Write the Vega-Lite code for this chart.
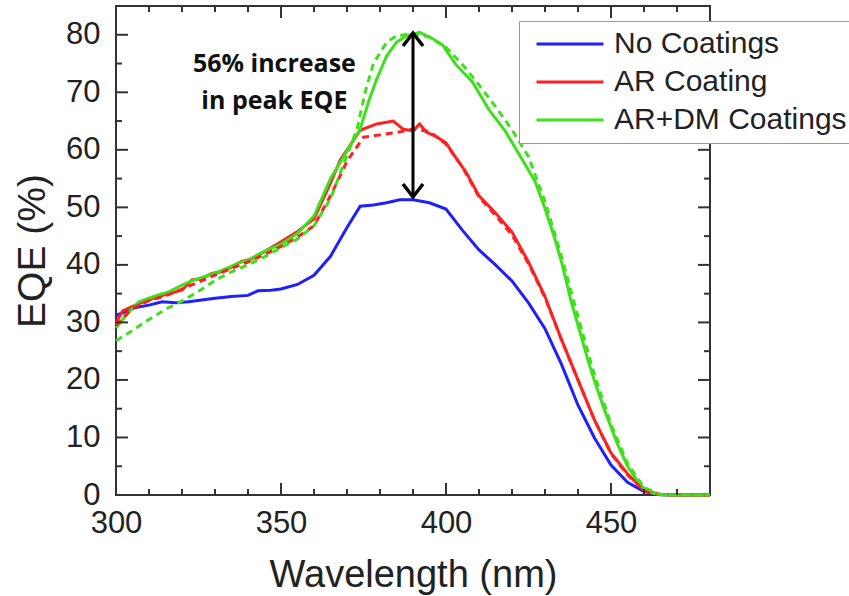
{
  "$schema": "https://vega.github.io/schema/vega-lite/v6.json",
  "width": 594,
  "height": 489,
  "autosize": {"type": "none"},
  "padding": {"left": 116, "top": 6, "right": 139, "bottom": 101},
  "background": "white",
  "config": {
    "view": {"stroke": "#333333", "strokeWidth": 2},
    "font": "Liberation Sans"
  },
  "datasets": {
    "curves": [
      {"wl":300,"eqe":31.2,"series":"No Coatings","kind":"Measured"},{"wl":303,"eqe":31.9,"series":"No Coatings","kind":"Measured"},{"wl":306,"eqe":32.6,"series":"No Coatings","kind":"Measured"},{"wl":310,"eqe":33.0,"series":"No Coatings","kind":"Measured"},{"wl":314,"eqe":33.6,"series":"No Coatings","kind":"Measured"},{"wl":318,"eqe":33.4,"series":"No Coatings","kind":"Measured"},{"wl":322,"eqe":33.6,"series":"No Coatings","kind":"Measured"},{"wl":326,"eqe":33.9,"series":"No Coatings","kind":"Measured"},{"wl":330,"eqe":34.2,"series":"No Coatings","kind":"Measured"},{"wl":335,"eqe":34.5,"series":"No Coatings","kind":"Measured"},{"wl":340,"eqe":34.7,"series":"No Coatings","kind":"Measured"},{"wl":343,"eqe":35.5,"series":"No Coatings","kind":"Measured"},{"wl":347,"eqe":35.6,"series":"No Coatings","kind":"Measured"},{"wl":350,"eqe":35.8,"series":"No Coatings","kind":"Measured"},{"wl":355,"eqe":36.6,"series":"No Coatings","kind":"Measured"},{"wl":360,"eqe":38.2,"series":"No Coatings","kind":"Measured"},{"wl":365,"eqe":41.5,"series":"No Coatings","kind":"Measured"},{"wl":370,"eqe":46.5,"series":"No Coatings","kind":"Measured"},{"wl":374,"eqe":50.2,"series":"No Coatings","kind":"Measured"},{"wl":378,"eqe":50.4,"series":"No Coatings","kind":"Measured"},{"wl":382,"eqe":50.8,"series":"No Coatings","kind":"Measured"},{"wl":386,"eqe":51.3,"series":"No Coatings","kind":"Measured"},{"wl":390,"eqe":51.3,"series":"No Coatings","kind":"Measured"},{"wl":395,"eqe":50.8,"series":"No Coatings","kind":"Measured"},{"wl":400,"eqe":49.7,"series":"No Coatings","kind":"Measured"},{"wl":405,"eqe":46.0,"series":"No Coatings","kind":"Measured"},{"wl":410,"eqe":42.6,"series":"No Coatings","kind":"Measured"},{"wl":415,"eqe":40.0,"series":"No Coatings","kind":"Measured"},{"wl":420,"eqe":37.2,"series":"No Coatings","kind":"Measured"},{"wl":425,"eqe":33.4,"series":"No Coatings","kind":"Measured"},{"wl":430,"eqe":28.9,"series":"No Coatings","kind":"Measured"},{"wl":435,"eqe":22.7,"series":"No Coatings","kind":"Measured"},{"wl":440,"eqe":15.6,"series":"No Coatings","kind":"Measured"},{"wl":445,"eqe":9.9,"series":"No Coatings","kind":"Measured"},{"wl":450,"eqe":5.2,"series":"No Coatings","kind":"Measured"},{"wl":455,"eqe":2.2,"series":"No Coatings","kind":"Measured"},{"wl":460,"eqe":0.6,"series":"No Coatings","kind":"Measured"},{"wl":465,"eqe":0.05,"series":"No Coatings","kind":"Measured"},{"wl":470,"eqe":0,"series":"No Coatings","kind":"Measured"},{"wl":480,"eqe":0,"series":"No Coatings","kind":"Measured"},

      {"wl":300,"eqe":30.0,"series":"AR Coating","kind":"Measured"},{"wl":302,"eqe":32.0,"series":"AR Coating","kind":"Measured"},{"wl":305,"eqe":32.8,"series":"AR Coating","kind":"Measured"},{"wl":308,"eqe":33.5,"series":"AR Coating","kind":"Measured"},{"wl":312,"eqe":34.3,"series":"AR Coating","kind":"Measured"},{"wl":316,"eqe":35.0,"series":"AR Coating","kind":"Measured"},{"wl":320,"eqe":35.6,"series":"AR Coating","kind":"Measured"},{"wl":323,"eqe":37.4,"series":"AR Coating","kind":"Measured"},{"wl":326,"eqe":37.6,"series":"AR Coating","kind":"Measured"},{"wl":329,"eqe":38.5,"series":"AR Coating","kind":"Measured"},{"wl":332,"eqe":38.8,"series":"AR Coating","kind":"Measured"},{"wl":335,"eqe":39.6,"series":"AR Coating","kind":"Measured"},{"wl":338,"eqe":40.6,"series":"AR Coating","kind":"Measured"},{"wl":341,"eqe":41.0,"series":"AR Coating","kind":"Measured"},{"wl":345,"eqe":42.3,"series":"AR Coating","kind":"Measured"},{"wl":350,"eqe":44.0,"series":"AR Coating","kind":"Measured"},{"wl":355,"eqe":45.8,"series":"AR Coating","kind":"Measured"},{"wl":360,"eqe":48.0,"series":"AR Coating","kind":"Measured"},{"wl":365,"eqe":54.2,"series":"AR Coating","kind":"Measured"},{"wl":368,"eqe":58.3,"series":"AR Coating","kind":"Measured"},{"wl":371,"eqe":60.8,"series":"AR Coating","kind":"Measured"},{"wl":374,"eqe":63.4,"series":"AR Coating","kind":"Measured"},{"wl":379,"eqe":64.5,"series":"AR Coating","kind":"Measured"},{"wl":384,"eqe":65.0,"series":"AR Coating","kind":"Measured"},{"wl":387,"eqe":63.6,"series":"AR Coating","kind":"Measured"},{"wl":390,"eqe":63.3,"series":"AR Coating","kind":"Measured"},{"wl":392,"eqe":64.5,"series":"AR Coating","kind":"Measured"},{"wl":394,"eqe":63.1,"series":"AR Coating","kind":"Measured"},{"wl":397,"eqe":62.3,"series":"AR Coating","kind":"Measured"},{"wl":400,"eqe":61.2,"series":"AR Coating","kind":"Measured"},{"wl":403,"eqe":58.6,"series":"AR Coating","kind":"Measured"},{"wl":406,"eqe":56.2,"series":"AR Coating","kind":"Measured"},{"wl":410,"eqe":52.0,"series":"AR Coating","kind":"Measured"},{"wl":415,"eqe":49.0,"series":"AR Coating","kind":"Measured"},{"wl":420,"eqe":45.7,"series":"AR Coating","kind":"Measured"},{"wl":425,"eqe":40.5,"series":"AR Coating","kind":"Measured"},{"wl":430,"eqe":34.5,"series":"AR Coating","kind":"Measured"},{"wl":435,"eqe":27.0,"series":"AR Coating","kind":"Measured"},{"wl":440,"eqe":20.0,"series":"AR Coating","kind":"Measured"},{"wl":445,"eqe":13.0,"series":"AR Coating","kind":"Measured"},{"wl":450,"eqe":7.3,"series":"AR Coating","kind":"Measured"},{"wl":455,"eqe":3.7,"series":"AR Coating","kind":"Measured"},{"wl":460,"eqe":0.8,"series":"AR Coating","kind":"Measured"},{"wl":465,"eqe":0.1,"series":"AR Coating","kind":"Measured"},{"wl":470,"eqe":0,"series":"AR Coating","kind":"Measured"},{"wl":480,"eqe":0,"series":"AR Coating","kind":"Measured"},

      {"wl":300,"eqe":29.5,"series":"AR Coating","kind":"Simulated"},{"wl":305,"eqe":32.5,"series":"AR Coating","kind":"Simulated"},{"wl":310,"eqe":33.8,"series":"AR Coating","kind":"Simulated"},{"wl":315,"eqe":34.6,"series":"AR Coating","kind":"Simulated"},{"wl":320,"eqe":35.8,"series":"AR Coating","kind":"Simulated"},{"wl":325,"eqe":37.0,"series":"AR Coating","kind":"Simulated"},{"wl":330,"eqe":38.2,"series":"AR Coating","kind":"Simulated"},{"wl":335,"eqe":39.4,"series":"AR Coating","kind":"Simulated"},{"wl":340,"eqe":40.5,"series":"AR Coating","kind":"Simulated"},{"wl":345,"eqe":41.8,"series":"AR Coating","kind":"Simulated"},{"wl":350,"eqe":43.2,"series":"AR Coating","kind":"Simulated"},{"wl":355,"eqe":44.8,"series":"AR Coating","kind":"Simulated"},{"wl":360,"eqe":46.8,"series":"AR Coating","kind":"Simulated"},{"wl":365,"eqe":52.0,"series":"AR Coating","kind":"Simulated"},{"wl":370,"eqe":58.0,"series":"AR Coating","kind":"Simulated"},{"wl":375,"eqe":62.2,"series":"AR Coating","kind":"Simulated"},{"wl":380,"eqe":62.6,"series":"AR Coating","kind":"Simulated"},{"wl":385,"eqe":63.0,"series":"AR Coating","kind":"Simulated"},{"wl":390,"eqe":63.6,"series":"AR Coating","kind":"Simulated"},{"wl":395,"eqe":63.2,"series":"AR Coating","kind":"Simulated"},{"wl":400,"eqe":61.0,"series":"AR Coating","kind":"Simulated"},{"wl":405,"eqe":57.0,"series":"AR Coating","kind":"Simulated"},{"wl":410,"eqe":51.8,"series":"AR Coating","kind":"Simulated"},{"wl":415,"eqe":48.6,"series":"AR Coating","kind":"Simulated"},{"wl":420,"eqe":45.2,"series":"AR Coating","kind":"Simulated"},{"wl":425,"eqe":40.2,"series":"AR Coating","kind":"Simulated"},{"wl":430,"eqe":34.3,"series":"AR Coating","kind":"Simulated"},{"wl":435,"eqe":27.0,"series":"AR Coating","kind":"Simulated"},{"wl":440,"eqe":20.0,"series":"AR Coating","kind":"Simulated"},{"wl":445,"eqe":13.0,"series":"AR Coating","kind":"Simulated"},{"wl":450,"eqe":7.2,"series":"AR Coating","kind":"Simulated"},{"wl":455,"eqe":3.5,"series":"AR Coating","kind":"Simulated"},{"wl":460,"eqe":0.8,"series":"AR Coating","kind":"Simulated"},{"wl":465,"eqe":0.1,"series":"AR Coating","kind":"Simulated"},{"wl":470,"eqe":0,"series":"AR Coating","kind":"Simulated"},{"wl":480,"eqe":0,"series":"AR Coating","kind":"Simulated"},

      {"wl":300,"eqe":29.0,"series":"AR+DM Coatings","kind":"Measured"},{"wl":302,"eqe":30.5,"series":"AR+DM Coatings","kind":"Measured"},{"wl":305,"eqe":32.5,"series":"AR+DM Coatings","kind":"Measured"},{"wl":307,"eqe":33.6,"series":"AR+DM Coatings","kind":"Measured"},{"wl":310,"eqe":34.2,"series":"AR+DM Coatings","kind":"Measured"},{"wl":313,"eqe":34.8,"series":"AR+DM Coatings","kind":"Measured"},{"wl":316,"eqe":35.3,"series":"AR+DM Coatings","kind":"Measured"},{"wl":319,"eqe":36.2,"series":"AR+DM Coatings","kind":"Measured"},{"wl":322,"eqe":37.0,"series":"AR+DM Coatings","kind":"Measured"},{"wl":325,"eqe":37.6,"series":"AR+DM Coatings","kind":"Measured"},{"wl":328,"eqe":38.2,"series":"AR+DM Coatings","kind":"Measured"},{"wl":331,"eqe":38.8,"series":"AR+DM Coatings","kind":"Measured"},{"wl":334,"eqe":39.5,"series":"AR+DM Coatings","kind":"Measured"},{"wl":337,"eqe":40.3,"series":"AR+DM Coatings","kind":"Measured"},{"wl":340,"eqe":40.8,"series":"AR+DM Coatings","kind":"Measured"},{"wl":343,"eqe":41.8,"series":"AR+DM Coatings","kind":"Measured"},{"wl":346,"eqe":42.6,"series":"AR+DM Coatings","kind":"Measured"},{"wl":350,"eqe":43.6,"series":"AR+DM Coatings","kind":"Measured"},{"wl":355,"eqe":45.5,"series":"AR+DM Coatings","kind":"Measured"},{"wl":360,"eqe":48.5,"series":"AR+DM Coatings","kind":"Measured"},{"wl":365,"eqe":55.0,"series":"AR+DM Coatings","kind":"Measured"},{"wl":370,"eqe":59.8,"series":"AR+DM Coatings","kind":"Measured"},{"wl":374,"eqe":63.6,"series":"AR+DM Coatings","kind":"Measured"},{"wl":376.5,"eqe":68.3,"series":"AR+DM Coatings","kind":"Measured"},{"wl":379,"eqe":72.3,"series":"AR+DM Coatings","kind":"Measured"},{"wl":382,"eqe":76.3,"series":"AR+DM Coatings","kind":"Measured"},{"wl":385,"eqe":78.7,"series":"AR+DM Coatings","kind":"Measured"},{"wl":388,"eqe":79.8,"series":"AR+DM Coatings","kind":"Measured"},{"wl":392,"eqe":80.4,"series":"AR+DM Coatings","kind":"Measured"},{"wl":396,"eqe":79.3,"series":"AR+DM Coatings","kind":"Measured"},{"wl":399,"eqe":78.2,"series":"AR+DM Coatings","kind":"Measured"},{"wl":403,"eqe":74.8,"series":"AR+DM Coatings","kind":"Measured"},{"wl":408,"eqe":71.8,"series":"AR+DM Coatings","kind":"Measured"},{"wl":413,"eqe":67.0,"series":"AR+DM Coatings","kind":"Measured"},{"wl":418,"eqe":63.2,"series":"AR+DM Coatings","kind":"Measured"},{"wl":423,"eqe":58.4,"series":"AR+DM Coatings","kind":"Measured"},{"wl":427,"eqe":54.5,"series":"AR+DM Coatings","kind":"Measured"},{"wl":430,"eqe":49.8,"series":"AR+DM Coatings","kind":"Measured"},{"wl":433,"eqe":44.5,"series":"AR+DM Coatings","kind":"Measured"},{"wl":435,"eqe":40.5,"series":"AR+DM Coatings","kind":"Measured"},{"wl":438,"eqe":33.5,"series":"AR+DM Coatings","kind":"Measured"},{"wl":440,"eqe":29.5,"series":"AR+DM Coatings","kind":"Measured"},{"wl":443,"eqe":23.5,"series":"AR+DM Coatings","kind":"Measured"},{"wl":445,"eqe":19.8,"series":"AR+DM Coatings","kind":"Measured"},{"wl":448,"eqe":14.8,"series":"AR+DM Coatings","kind":"Measured"},{"wl":450,"eqe":11.8,"series":"AR+DM Coatings","kind":"Measured"},{"wl":452,"eqe":8.8,"series":"AR+DM Coatings","kind":"Measured"},{"wl":455,"eqe":5.0,"series":"AR+DM Coatings","kind":"Measured"},{"wl":459,"eqe":1.6,"series":"AR+DM Coatings","kind":"Measured"},{"wl":462,"eqe":0.4,"series":"AR+DM Coatings","kind":"Measured"},{"wl":465,"eqe":0.05,"series":"AR+DM Coatings","kind":"Measured"},{"wl":470,"eqe":0,"series":"AR+DM Coatings","kind":"Measured"},{"wl":480,"eqe":0,"series":"AR+DM Coatings","kind":"Measured"},

      {"wl":300,"eqe":26.8,"series":"AR+DM Coatings","kind":"Simulated"},{"wl":305,"eqe":28.6,"series":"AR+DM Coatings","kind":"Simulated"},{"wl":310,"eqe":30.5,"series":"AR+DM Coatings","kind":"Simulated"},{"wl":315,"eqe":32.3,"series":"AR+DM Coatings","kind":"Simulated"},{"wl":320,"eqe":33.7,"series":"AR+DM Coatings","kind":"Simulated"},{"wl":325,"eqe":35.4,"series":"AR+DM Coatings","kind":"Simulated"},{"wl":330,"eqe":37.3,"series":"AR+DM Coatings","kind":"Simulated"},{"wl":335,"eqe":38.8,"series":"AR+DM Coatings","kind":"Simulated"},{"wl":340,"eqe":40.0,"series":"AR+DM Coatings","kind":"Simulated"},{"wl":345,"eqe":41.4,"series":"AR+DM Coatings","kind":"Simulated"},{"wl":350,"eqe":43.0,"series":"AR+DM Coatings","kind":"Simulated"},{"wl":355,"eqe":44.5,"series":"AR+DM Coatings","kind":"Simulated"},{"wl":360,"eqe":46.8,"series":"AR+DM Coatings","kind":"Simulated"},{"wl":365,"eqe":51.5,"series":"AR+DM Coatings","kind":"Simulated"},{"wl":370,"eqe":59.0,"series":"AR+DM Coatings","kind":"Simulated"},{"wl":373,"eqe":63.5,"series":"AR+DM Coatings","kind":"Simulated"},{"wl":375.5,"eqe":70.0,"series":"AR+DM Coatings","kind":"Simulated"},{"wl":378,"eqe":75.0,"series":"AR+DM Coatings","kind":"Simulated"},{"wl":382,"eqe":78.7,"series":"AR+DM Coatings","kind":"Simulated"},{"wl":385,"eqe":79.8,"series":"AR+DM Coatings","kind":"Simulated"},{"wl":390,"eqe":80.2,"series":"AR+DM Coatings","kind":"Simulated"},{"wl":395,"eqe":79.6,"series":"AR+DM Coatings","kind":"Simulated"},{"wl":400,"eqe":77.8,"series":"AR+DM Coatings","kind":"Simulated"},{"wl":405,"eqe":74.8,"series":"AR+DM Coatings","kind":"Simulated"},{"wl":410,"eqe":71.3,"series":"AR+DM Coatings","kind":"Simulated"},{"wl":415,"eqe":67.5,"series":"AR+DM Coatings","kind":"Simulated"},{"wl":420,"eqe":63.5,"series":"AR+DM Coatings","kind":"Simulated"},{"wl":425,"eqe":58.8,"series":"AR+DM Coatings","kind":"Simulated"},{"wl":430,"eqe":51.0,"series":"AR+DM Coatings","kind":"Simulated"},{"wl":435,"eqe":41.5,"series":"AR+DM Coatings","kind":"Simulated"},{"wl":440,"eqe":31.0,"series":"AR+DM Coatings","kind":"Simulated"},{"wl":445,"eqe":20.8,"series":"AR+DM Coatings","kind":"Simulated"},{"wl":450,"eqe":12.3,"series":"AR+DM Coatings","kind":"Simulated"},{"wl":455,"eqe":5.5,"series":"AR+DM Coatings","kind":"Simulated"},{"wl":460,"eqe":1.3,"series":"AR+DM Coatings","kind":"Simulated"},{"wl":465,"eqe":0.1,"series":"AR+DM Coatings","kind":"Simulated"},{"wl":470,"eqe":0,"series":"AR+DM Coatings","kind":"Simulated"},{"wl":480,"eqe":0,"series":"AR+DM Coatings","kind":"Simulated"}
    ],
    "xticks": [
      {"v":310,"level":"minor"},{"v":320,"level":"minor"},{"v":330,"level":"minor"},{"v":340,"level":"minor"},{"v":350,"level":"major"},{"v":360,"level":"minor"},{"v":370,"level":"minor"},{"v":380,"level":"minor"},{"v":390,"level":"minor"},{"v":400,"level":"major"},{"v":410,"level":"minor"},{"v":420,"level":"minor"},{"v":430,"level":"minor"},{"v":440,"level":"minor"},{"v":450,"level":"major"},{"v":460,"level":"minor"},{"v":470,"level":"minor"}
    ],
    "yticks": [
      {"v":5,"level":"minor"},{"v":10,"level":"major"},{"v":15,"level":"minor"},{"v":20,"level":"major"},{"v":25,"level":"minor"},{"v":30,"level":"major"},{"v":35,"level":"minor"},{"v":40,"level":"major"},{"v":45,"level":"minor"},{"v":50,"level":"major"},{"v":55,"level":"minor"},{"v":60,"level":"major"},{"v":65,"level":"minor"},{"v":70,"level":"major"},{"v":75,"level":"minor"},{"v":80,"level":"major"}
    ],
    "arrow": [{"wl": 390, "lo": 51.8, "hi": 80.3}],
    "heads": [{"wl": 390, "eqe": 80.3, "end": "top"}, {"wl": 390, "eqe": 51.8, "end": "bottom"}],
    "notes": [{"wl": 348, "eqe": 75.0, "label": "56% increase"}, {"wl": 348, "eqe": 68.4, "label": "in peak EQE"}]
  },
  "layer": [
    {
      "data": {"name": "curves"},
      "transform": [{"filter": "datum.kind == 'Measured'"}],
      "mark": {"type": "line", "strokeWidth": 3},
      "encoding": {
        "x": {"field": "wl", "type": "quantitative", "scale": {"domain": [300, 480], "nice": false, "zero": false},
              "axis": {"orient": "bottom", "values": [300, 350, 400, 450], "ticks": false, "domain": false, "grid": false, "labelFlush": false, "labelFont": "Liberation Sans", "labelColor": "#222222", "labelFontSize": 31, "labelPadding": 13, "title": "Wavelength (nm)", "titleFont": "Liberation Sans", "titleColor": "#222222", "titleFontWeight": "normal", "titleFontSize": 38, "titlePadding": 18}},
        "y": {"field": "eqe", "type": "quantitative", "scale": {"domain": [0, 85], "nice": false},
              "axis": {"orient": "left", "values": [0,10,20,30,40,50,60,70,80], "ticks": false, "domain": false, "grid": false, "labelFlush": false, "labelFont": "Liberation Sans", "labelColor": "#222222", "labelFontSize": 31, "labelPadding": 16, "title": "EQE (%)", "titleFont": "Liberation Sans", "titleColor": "#222222", "titleFontWeight": "normal", "titleFontSize": 39, "titlePadding": 13}},
        "color": {"field": "series", "type": "nominal", "scale": {"domain": ["No Coatings", "AR Coating", "AR+DM Coatings"], "range": ["#1f1fff", "#ff2020", "#3ee01c"]},
                  "legend": {"orient": "none", "legendX": 403, "legendY": 15, "title": null, "strokeColor": "#999999", "fillColor": "white", "padding": 8, "symbolType": "stroke", "symbolSize": 4489, "symbolStrokeWidth": 3, "symbolDash": [1, 0], "symbolOffset": 8, "labelOffset": 9, "labelFontSize": 30, "labelFont": "Liberation Sans", "labelColor": "#222222", "labelLimit": 400, "clipHeight": 30, "rowPadding": 8}}
      }
    },
    {
      "data": {"name": "curves"},
      "transform": [{"filter": "datum.kind == 'Simulated'"}],
      "mark": {"type": "line", "strokeWidth": 3, "strokeDash": [7, 5]},
      "encoding": {
        "x": {"field": "wl", "type": "quantitative",
              "axis": {"orient": "bottom", "values": [300, 350, 400, 450], "ticks": false, "domain": false, "grid": false, "labelFlush": false, "labelFont": "Liberation Sans", "labelColor": "#222222", "labelFontSize": 31, "labelPadding": 13, "title": "Wavelength (nm)", "titleFont": "Liberation Sans", "titleColor": "#222222", "titleFontWeight": "normal", "titleFontSize": 38, "titlePadding": 18}},
        "y": {"field": "eqe", "type": "quantitative",
              "axis": {"orient": "left", "values": [0,10,20,30,40,50,60,70,80], "ticks": false, "domain": false, "grid": false, "labelFlush": false, "labelFont": "Liberation Sans", "labelColor": "#222222", "labelFontSize": 31, "labelPadding": 16, "title": "EQE (%)", "titleFont": "Liberation Sans", "titleColor": "#222222", "titleFontWeight": "normal", "titleFontSize": 39, "titlePadding": 13}},
        "color": {"field": "series", "type": "nominal"}
      }
    },
    {
      "data": {"name": "xticks"},
      "mark": {"type": "tick", "orient": "vertical", "thickness": 2, "color": "#333333", "opacity": 1, "clip": true},
      "encoding": {
        "x": {"field": "v", "type": "quantitative",
              "axis": {"orient": "bottom", "values": [300, 350, 400, 450], "ticks": false, "domain": false, "grid": false, "labelFlush": false, "labelFont": "Liberation Sans", "labelColor": "#222222", "labelFontSize": 31, "labelPadding": 13, "title": "Wavelength (nm)", "titleFont": "Liberation Sans", "titleColor": "#222222", "titleFontWeight": "normal", "titleFontSize": 38, "titlePadding": 18}},
        "y": {"datum": 0, "type": "quantitative",
              "axis": {"orient": "left", "values": [0,10,20,30,40,50,60,70,80], "ticks": false, "domain": false, "grid": false, "labelFlush": false, "labelFont": "Liberation Sans", "labelColor": "#222222", "labelFontSize": 31, "labelPadding": 16, "title": "EQE (%)", "titleFont": "Liberation Sans", "titleColor": "#222222", "titleFontWeight": "normal", "titleFontSize": 39, "titlePadding": 13}},
        "size": {"field": "level", "type": "ordinal", "scale": {"domain": ["major", "minor"], "range": [24, 12]}, "legend": null}
      }
    },
    {
      "data": {"name": "xticks"},
      "mark": {"type": "tick", "orient": "vertical", "thickness": 2, "color": "#333333", "opacity": 1, "clip": true},
      "encoding": {
        "x": {"field": "v", "type": "quantitative",
              "axis": {"orient": "bottom", "values": [300, 350, 400, 450], "ticks": false, "domain": false, "grid": false, "labelFlush": false, "labelFont": "Liberation Sans", "labelColor": "#222222", "labelFontSize": 31, "labelPadding": 13, "title": "Wavelength (nm)", "titleFont": "Liberation Sans", "titleColor": "#222222", "titleFontWeight": "normal", "titleFontSize": 38, "titlePadding": 18}},
        "y": {"datum": 85, "type": "quantitative",
              "axis": {"orient": "left", "values": [0,10,20,30,40,50,60,70,80], "ticks": false, "domain": false, "grid": false, "labelFlush": false, "labelFont": "Liberation Sans", "labelColor": "#222222", "labelFontSize": 31, "labelPadding": 16, "title": "EQE (%)", "titleFont": "Liberation Sans", "titleColor": "#222222", "titleFontWeight": "normal", "titleFontSize": 39, "titlePadding": 13}},
        "size": {"field": "level", "type": "ordinal", "legend": null}
      }
    },
    {
      "data": {"name": "yticks"},
      "mark": {"type": "tick", "orient": "horizontal", "thickness": 2, "color": "#333333", "opacity": 1, "clip": true},
      "encoding": {
        "x": {"datum": 300, "type": "quantitative",
              "axis": {"orient": "bottom", "values": [300, 350, 400, 450], "ticks": false, "domain": false, "grid": false, "labelFlush": false, "labelFont": "Liberation Sans", "labelColor": "#222222", "labelFontSize": 31, "labelPadding": 13, "title": "Wavelength (nm)", "titleFont": "Liberation Sans", "titleColor": "#222222", "titleFontWeight": "normal", "titleFontSize": 38, "titlePadding": 18}},
        "y": {"field": "v", "type": "quantitative",
              "axis": {"orient": "left", "values": [0,10,20,30,40,50,60,70,80], "ticks": false, "domain": false, "grid": false, "labelFlush": false, "labelFont": "Liberation Sans", "labelColor": "#222222", "labelFontSize": 31, "labelPadding": 16, "title": "EQE (%)", "titleFont": "Liberation Sans", "titleColor": "#222222", "titleFontWeight": "normal", "titleFontSize": 39, "titlePadding": 13}},
        "size": {"field": "level", "type": "ordinal", "legend": null}
      }
    },
    {
      "data": {"name": "yticks"},
      "mark": {"type": "tick", "orient": "horizontal", "thickness": 2, "color": "#333333", "opacity": 1, "clip": true},
      "encoding": {
        "x": {"datum": 480, "type": "quantitative",
              "axis": {"orient": "bottom", "values": [300, 350, 400, 450], "ticks": false, "domain": false, "grid": false, "labelFlush": false, "labelFont": "Liberation Sans", "labelColor": "#222222", "labelFontSize": 31, "labelPadding": 13, "title": "Wavelength (nm)", "titleFont": "Liberation Sans", "titleColor": "#222222", "titleFontWeight": "normal", "titleFontSize": 38, "titlePadding": 18}},
        "y": {"field": "v", "type": "quantitative",
              "axis": {"orient": "left", "values": [0,10,20,30,40,50,60,70,80], "ticks": false, "domain": false, "grid": false, "labelFlush": false, "labelFont": "Liberation Sans", "labelColor": "#222222", "labelFontSize": 31, "labelPadding": 16, "title": "EQE (%)", "titleFont": "Liberation Sans", "titleColor": "#222222", "titleFontWeight": "normal", "titleFontSize": 39, "titlePadding": 13}},
        "size": {"field": "level", "type": "ordinal", "legend": null}
      }
    },
    {
      "data": {"name": "arrow"},
      "mark": {"type": "rule", "strokeWidth": 3, "color": "black"},
      "encoding": {
        "x": {"field": "wl", "type": "quantitative",
              "axis": {"orient": "bottom", "values": [300, 350, 400, 450], "ticks": false, "domain": false, "grid": false, "labelFlush": false, "labelFont": "Liberation Sans", "labelColor": "#222222", "labelFontSize": 31, "labelPadding": 13, "title": "Wavelength (nm)", "titleFont": "Liberation Sans", "titleColor": "#222222", "titleFontWeight": "normal", "titleFontSize": 38, "titlePadding": 18}},
        "y": {"field": "lo", "type": "quantitative",
              "axis": {"orient": "left", "values": [0,10,20,30,40,50,60,70,80], "ticks": false, "domain": false, "grid": false, "labelFlush": false, "labelFont": "Liberation Sans", "labelColor": "#222222", "labelFontSize": 31, "labelPadding": 16, "title": "EQE (%)", "titleFont": "Liberation Sans", "titleColor": "#222222", "titleFontWeight": "normal", "titleFontSize": 39, "titlePadding": 13}},
        "y2": {"field": "hi"}
      }
    },
    {
      "data": {"name": "heads"},
      "mark": {"type": "point", "filled": false, "size": 400, "strokeWidth": 3.5, "color": "black", "opacity": 1},
      "encoding": {
        "x": {"field": "wl", "type": "quantitative",
              "axis": {"orient": "bottom", "values": [300, 350, 400, 450], "ticks": false, "domain": false, "grid": false, "labelFlush": false, "labelFont": "Liberation Sans", "labelColor": "#222222", "labelFontSize": 31, "labelPadding": 13, "title": "Wavelength (nm)", "titleFont": "Liberation Sans", "titleColor": "#222222", "titleFontWeight": "normal", "titleFontSize": 38, "titlePadding": 18}},
        "y": {"field": "eqe", "type": "quantitative",
              "axis": {"orient": "left", "values": [0,10,20,30,40,50,60,70,80], "ticks": false, "domain": false, "grid": false, "labelFlush": false, "labelFont": "Liberation Sans", "labelColor": "#222222", "labelFontSize": 31, "labelPadding": 16, "title": "EQE (%)", "titleFont": "Liberation Sans", "titleColor": "#222222", "titleFontWeight": "normal", "titleFontSize": 39, "titlePadding": 13}},
        "shape": {"field": "end", "type": "nominal", "scale": {"domain": ["top", "bottom"], "range": ["M-1,1.3L0,0L1,1.3", "M-1,-1.3L0,0L1,-1.3"]}, "legend": null}
      }
    },
    {
      "data": {"name": "notes"},
      "mark": {"type": "text", "font": "Open Sans", "fontWeight": "bold", "fontSize": 25, "color": "#111111", "align": "center", "baseline": "middle"},
      "encoding": {
        "x": {"field": "wl", "type": "quantitative",
              "axis": {"orient": "bottom", "values": [300, 350, 400, 450], "ticks": false, "domain": false, "grid": false, "labelFlush": false, "labelFont": "Liberation Sans", "labelColor": "#222222", "labelFontSize": 31, "labelPadding": 13, "title": "Wavelength (nm)", "titleFont": "Liberation Sans", "titleColor": "#222222", "titleFontWeight": "normal", "titleFontSize": 38, "titlePadding": 18}},
        "y": {"field": "eqe", "type": "quantitative",
              "axis": {"orient": "left", "values": [0,10,20,30,40,50,60,70,80], "ticks": false, "domain": false, "grid": false, "labelFlush": false, "labelFont": "Liberation Sans", "labelColor": "#222222", "labelFontSize": 31, "labelPadding": 16, "title": "EQE (%)", "titleFont": "Liberation Sans", "titleColor": "#222222", "titleFontWeight": "normal", "titleFontSize": 39, "titlePadding": 13}},
        "text": {"field": "label"}
      }
    }
  ]
}
